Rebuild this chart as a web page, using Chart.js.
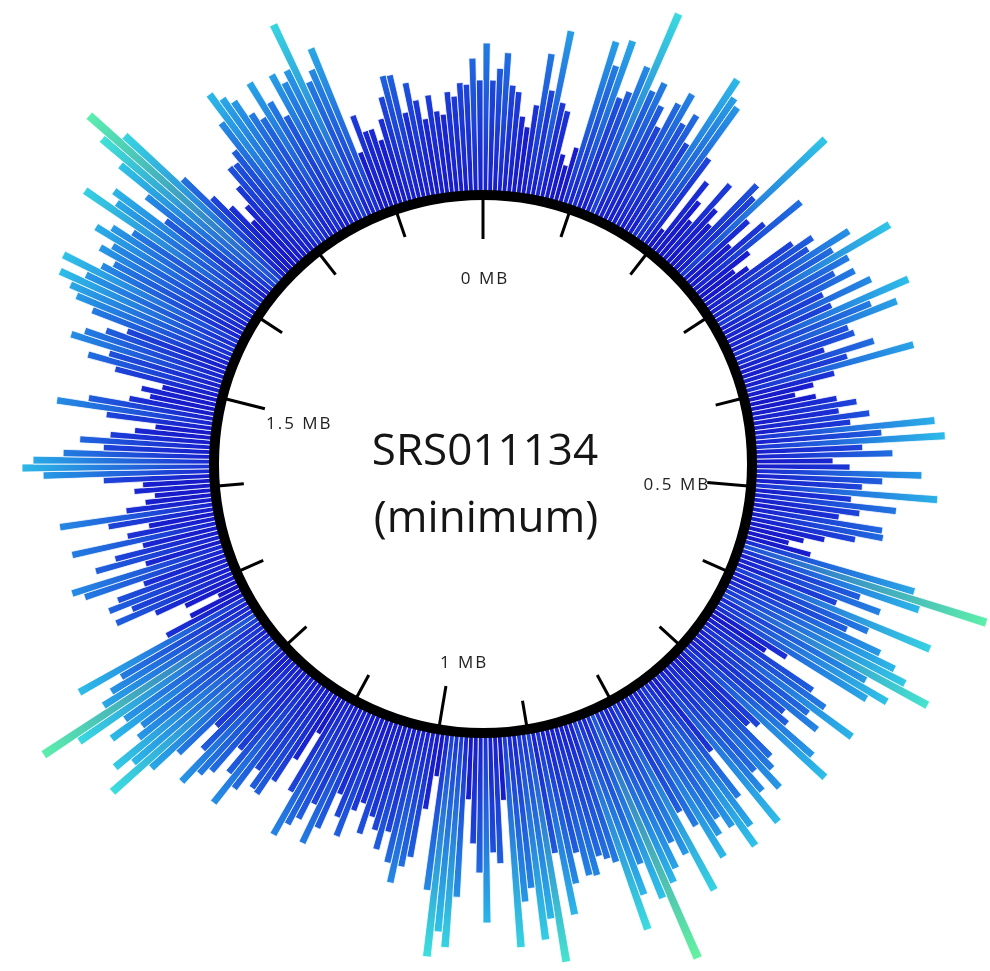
<!DOCTYPE html>
<html>
<head>
<meta charset="utf-8">
<title>SRS011134 (minimum)</title>
<script src="https://cdn.jsdelivr.net/npm/chart.js@4.4.1/dist/chart.umd.min.js"></script>
<style>
  html, body { margin: 0; padding: 0; background: #fff; }
  #wrap { width: 990px; height: 971px; }
</style>
</head>
<body>
<div id="wrap"><canvas id="genomeChart" width="990" height="971"></canvas></div>
<script>
// sample and genome layout
const sampleName = "SRS011134";
const sampleNote = "(minimum)";
const genomeSizeMb = 1.9;
const tickStepMb = 0.1;
const majorTickMb = [0, 0.5, 1, 1.5];
const majorTickLabels = ["0 MB", "0.5 MB", "1 MB", "1.5 MB"];

// bar height per 1-degree window, clockwise from 0 MB
const depthQ1 = [
  15.1, 11.4, 12.6, 14.2, 11.0, 10.4, 8.0, 7.0, 9.3, 14.6,
  11.0, 17.2, 10.0, 9.3, 5.0, 4.0, 6.0, 17.3, 15.0, 17.9,
  12.1, 13.0, 16.0, 22.1, 14.0, 15.2, 13.0, 11.0, 14.0, 15.5,
  12.5, 13.9, 11.0, 19.1, 17.4, 16.8, 11.0, 2.6, 9.0, 7.0,
  5.0, 10.3, 7.5, 6.0, 12.1, 11.0, 20.2, 9.0, 6.0, 10.0,
  14.2, 7.0, 4.7, 6.0, 11.0, 13.0, 12.0, 16.4, 14.0, 20.2,
  15.0, 13.0, 14.9, 11.0, 16.0, 11.3, 19.4, 15.0, 17.5, 12.0,
  12.4, 9.0, 14.0, 11.0, 17.7, 9.3, 7.0, 5.0, 7.0, 9.0,
  10.9, 9.0, 12.0, 10.0, 18.4, 13.0, 19.3, 11.0, 14.0, 8.0
];
const depthQ2 = [
  9.7, 16.9, 13.0, 11.0, 18.6, 10.0, 14.6, 11.0, 9.0, 13.5,
  13.7, 11.0, 8.0, 6.0, 4.6, 7.0, 18.0, 25.8, 19.0, 13.0,
  15.4, 11.0, 21.4, 15.0, 13.0, 17.0, 19.0, 20.6, 23.6, 17.0,
  19.9, 18.0, 9.0, 6.9, 13.0, 15.0, 18.9, 14.0, 15.7, 12.0,
  13.0, 17.0, 19.4, 11.0, 10.2, 14.0, 15.0, 16.9, 14.0, 16.0,
  19.4, 9.7, 15.0, 18.0, 19.9, 17.0, 15.5, 17.0, 19.1, 15.0,
  13.0, 21.5, 17.0, 15.3, 17.8, 19.0, 26.9, 20.0, 16.0, 19.0,
  22.4, 15.0, 14.4, 13.9, 15.7, 15.5, 13.0, 16.0, 19.0, 12.6,
  23.5, 19.0, 21.0, 15.7, 17.0, 21.5, 6.7, 13.0, 11.9, 18.9
];
const depthQ3 = [
  13.9, 11.0, 6.6, 16.4, 21.5, 20.0, 22.6, 16.0, 4.6, 8.0,
  13.0, 14.1, 15.9, 14.0, 11.0, 13.0, 11.2, 10.0, 12.0, 9.0,
  10.0, 13.0, 11.2, 9.0, 13.0, 15.0, 11.0, 13.0, 14.0, 15.6,
  11.0, 4.6, 8.0, 11.0, 13.0, 12.8, 11.0, 13.9, 16.3, 13.0,
  10.5, 14.0, 15.0, 16.8, 13.0, 10.4, 15.0, 18.0, 22.5, 19.0,
  20.7, 17.0, 16.0, 19.2, 17.0, 22.0, 25.7, 18.0, 16.6, 15.0,
  19.4, 9.0, 6.0, 2.6, 6.0, 9.0, 13.0, 11.0, 13.2, 12.0,
  9.0, 15.0, 16.1, 8.2, 13.2, 11.0, 8.0, 15.1, 9.3, 7.0,
  11.0, 15.8, 9.0, 7.0, 6.0, 8.0, 7.1, 11.0, 17.0, 19.1
];
const depthQ4 = [
  18.0, 15.0, 11.0, 13.4, 10.4, 8.0, 6.0, 11.0, 16.1, 13.0,
  9.0, 7.0, 8.0, 6.0, 11.0, 14.0, 12.0, 16.2, 15.0, 13.0,
  11.0, 15.0, 17.0, 18.0, 19.5, 17.0, 19.9, 16.0, 15.0, 17.0,
  16.0, 18.4, 17.0, 15.0, 21.3, 18.0, 18.9, 13.0, 16.0, 20.0,
  23.1, 25.6, 21.6, 14.4, 11.0, 9.0, 6.5, 8.0, 10.0, 12.0,
  11.9, 13.0, 16.0, 19.0, 17.9, 17.0, 15.0, 14.0, 17.7, 15.0,
  13.0, 17.3, 16.0, 17.0, 21.7, 15.0, 16.0, 18.0, 6.5, 10.2,
  8.3, 8.3, 7.0, 9.0, 11.1, 13.1, 13.0, 9.0, 11.9, 10.0,
  8.0, 10.3, 8.6, 8.2, 10.4, 9.9, 11.2, 11.0, 13.6, 11.4
];

const depth = depthQ1.concat(depthQ2, depthQ3, depthQ4);
const windowLabels = depth.map((_, i) => (i * genomeSizeMb / depth.length).toFixed(3) + " MB");

// colour by distance from centre: dark blue at the ring -> cyan -> green at the far tips
const colorStops = [
  [270, [22, 22, 190]],
  [340, [24, 30, 206]],
  [375, [28, 62, 216]],
  [405, [32, 102, 222]],
  [435, [38, 146, 228]],
  [465, [46, 190, 232]],
  [495, [60, 222, 222]],
  [535, [100, 242, 160]]
];

function colorAt(radius) {
  if (radius <= colorStops[0][0]) return "rgb(" + colorStops[0][1].join(",") + ")";
  for (let i = 1; i < colorStops.length; i++) {
    const [r1, c1] = colorStops[i];
    const [r0, c0] = colorStops[i - 1];
    if (radius <= r1) {
      const t = (radius - r0) / (r1 - r0);
      const c = c0.map((v, k) => Math.round(v + (c1[k] - v) * t));
      return "rgb(" + c.join(",") + ")";
    }
  }
  return "rgb(" + colorStops[colorStops.length - 1][1].join(",") + ")";
}

function barFill(c) {
  const s = c.chart.scales.r;
  if (!s || c.type !== "data" || s.xCenter == null || !s.drawingArea) return "rgb(24,30,206)";
  const r0 = s.getDistanceFromCenterForValue(0);
  const tip = Math.max(s.getDistanceFromCenterForValue(c.raw), r0 + 1);
  const g = c.chart.ctx.createRadialGradient(s.xCenter, s.yCenter, r0, s.xCenter, s.yCenter, tip);
  g.addColorStop(0, colorAt(r0 + 0.45 * (tip - r0)));
  g.addColorStop(1, colorAt(tip));
  return g;
}

// white disc, black ring, MB ticks and the labels in the middle
const ringPlugin = {
  id: "genomeRing",
  afterDatasetsDraw(chart) {
    const s = chart.scales.r;
    const ctx = chart.ctx;
    const cx = s.xCenter, cy = s.yCenter;
    const rRing = s.getDistanceFromCenterForValue(0) - 1;

    ctx.save();
    ctx.beginPath();
    ctx.arc(cx, cy, rRing - 2, 0, Math.PI * 2);
    ctx.fillStyle = "#fff";
    ctx.fill();

    ctx.beginPath();
    ctx.arc(cx, cy, rRing, 0, Math.PI * 2);
    ctx.lineWidth = 10;
    ctx.strokeStyle = "#000";
    ctx.stroke();

    const nTicks = Math.round(genomeSizeMb / tickStepMb);
    ctx.lineWidth = 3;
    ctx.lineCap = "butt";
    for (let i = 0; i < nTicks; i++) {
      const mb = i * tickStepMb;
      const a = mb / genomeSizeMb * Math.PI * 2 - Math.PI / 2;
      const major = majorTickMb.some(m => Math.abs(m - mb) < 1e-6);
      const rIn = major ? rRing - 44 : rRing - 29;
      ctx.beginPath();
      ctx.moveTo(cx + Math.cos(a) * rIn, cy + Math.sin(a) * rIn);
      ctx.lineTo(cx + Math.cos(a) * rRing, cy + Math.sin(a) * rRing);
      ctx.stroke();
    }

    // label spots: [angle in degrees, distance from centre]
    const labelSpots = [[0.3, 185], [96.2, 194], [185.7, 200], [282.2, 189]];
    ctx.fillStyle = "#222";
    ctx.font = '17px "Open Sans"';
    ctx.letterSpacing = "2px";
    ctx.textAlign = "center";
    ctx.textBaseline = "middle";
    majorTickLabels.forEach((txt, i) => {
      const a = labelSpots[i][0] * Math.PI / 180 - Math.PI / 2;
      ctx.fillText(txt, cx + Math.cos(a) * labelSpots[i][1] + 1, cy + Math.sin(a) * labelSpots[i][1]);
    });

    ctx.letterSpacing = "0px";
    ctx.fillStyle = "#151515";
    ctx.font = '44px "Open Sans"';
    ctx.textBaseline = "alphabetic";
    ctx.fillText(sampleName, cx + 2, cy + 1);
    ctx.fillText(sampleNote, cx + 3, cy + 68);
    ctx.restore();
  }
};

new Chart(document.getElementById("genomeChart"), {
  type: "polarArea",
  data: {
    labels: windowLabels,
    datasets: [{
      data: depth,
      backgroundColor: barFill,
      borderColor: "#fff",
      borderWidth: 0.8,
      clip: false
    }]
  },
  options: {
    responsive: false,
    animation: false,
    layout: { padding: { left: 0, top: 0, right: 24, bottom: 43 } },
    plugins: {
      legend: { display: false },
      tooltip: { enabled: false }
    },
    scales: {
      r: {
        min: -27,
        max: 19.4,
        startAngle: 0,
        ticks: { display: false },
        grid: { display: false },
        angleLines: { display: false },
        pointLabels: { display: false }
      }
    }
  },
  plugins: [ringPlugin]
});
</script>
</body>
</html>
